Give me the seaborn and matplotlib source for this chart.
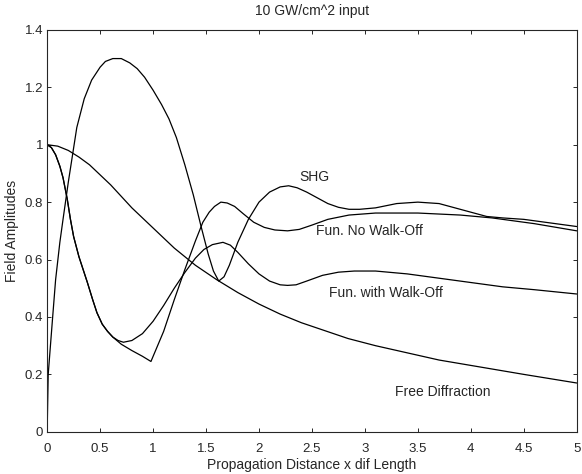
import matplotlib
matplotlib.use("Agg")
import matplotlib.pyplot as plt
import pandas as pd
import seaborn as sns

# curves
shg_x = [0, 0.01, 0.05, 0.08, 0.12, 0.15, 0.2, 0.28, 0.35, 0.42, 0.5, 0.55, 0.62, 0.7, 0.78,
         0.85, 0.92, 1.0, 1.08, 1.15, 1.22, 1.3, 1.38, 1.45, 1.52, 1.57, 1.62, 1.67, 1.72,
         1.8, 1.9, 2.0, 2.1, 2.2, 2.28, 2.36, 2.45, 2.55, 2.65, 2.75, 2.85, 2.95, 3.1, 3.3,
         3.5, 3.7, 3.85, 4.0, 4.15, 4.3, 4.5, 4.7, 5.0]
shg_y = [0, 0.2, 0.39, 0.53, 0.66, 0.74, 0.87, 1.06, 1.16, 1.225, 1.27, 1.29, 1.30, 1.30, 1.285,
         1.265, 1.235, 1.19, 1.14, 1.09, 1.025, 0.93, 0.825, 0.72, 0.62, 0.56, 0.525, 0.54, 0.58,
         0.66, 0.74, 0.80, 0.835, 0.853, 0.857, 0.85, 0.835, 0.815, 0.795, 0.782, 0.775, 0.775,
         0.78, 0.795, 0.80, 0.795, 0.78, 0.765, 0.75, 0.745, 0.74, 0.73, 0.715]

nowo_x = [0, 0.04, 0.08, 0.12, 0.15, 0.19, 0.22, 0.25, 0.3, 0.34, 0.38, 0.43, 0.47, 0.52, 0.57,
          0.62, 0.7, 0.8, 0.9, 0.98, 1.1, 1.2, 1.3, 1.4, 1.47, 1.53, 1.58, 1.64, 1.7, 1.77,
          1.85, 1.95, 2.05, 2.15, 2.27, 2.38, 2.5, 2.65, 2.85, 3.1, 3.5, 3.9, 4.2, 4.6, 5.0]
nowo_y = [1.0, 0.99, 0.965, 0.925, 0.885, 0.81, 0.74, 0.68, 0.61, 0.565, 0.52, 0.46, 0.415, 0.375,
          0.35, 0.33, 0.305, 0.283, 0.263, 0.245, 0.35, 0.46, 0.565, 0.665, 0.73, 0.765, 0.785,
          0.80, 0.797, 0.785, 0.76, 0.73, 0.712, 0.703, 0.70, 0.705, 0.72, 0.74, 0.755, 0.762,
          0.762, 0.755, 0.745, 0.725, 0.70]

wo_x = [0, 0.04, 0.08, 0.12, 0.15, 0.19, 0.22, 0.25, 0.3, 0.34, 0.38, 0.43, 0.47, 0.52, 0.57,
        0.62, 0.67, 0.72, 0.8, 0.9, 1.0, 1.1, 1.2, 1.3, 1.4, 1.48, 1.56, 1.66, 1.73, 1.8, 1.9,
        2.0, 2.1, 2.2, 2.27, 2.35, 2.45, 2.6, 2.75, 2.9, 3.1, 3.4, 3.7, 4.0, 4.3, 4.6, 5.0]
wo_y = [1.0, 0.99, 0.965, 0.925, 0.885, 0.81, 0.74, 0.68, 0.61, 0.565, 0.52, 0.46, 0.415, 0.375,
        0.35, 0.33, 0.318, 0.312, 0.318, 0.342, 0.385, 0.44, 0.50, 0.555, 0.605, 0.635, 0.652,
        0.66, 0.65, 0.625, 0.585, 0.55, 0.525, 0.512, 0.51, 0.512, 0.525, 0.545, 0.556, 0.56,
        0.56, 0.55, 0.535, 0.52, 0.505, 0.495, 0.48]

free_x = [0, 0.1, 0.2, 0.3, 0.4, 0.5, 0.6, 0.7, 0.8, 0.9, 1.0, 1.1, 1.2, 1.3, 1.4, 1.5, 1.6,
          1.8, 2.0, 2.2, 2.4, 2.6, 2.84, 3.1, 3.4, 3.7, 4.1, 4.5, 5.0]
free_y = [1.0, 0.995, 0.98, 0.957, 0.93, 0.895, 0.86, 0.82, 0.78, 0.745, 0.71, 0.675, 0.64, 0.61,
          0.58, 0.555, 0.53, 0.485, 0.445, 0.41, 0.38, 0.355, 0.325, 0.30, 0.275, 0.25, 0.225,
          0.20, 0.17]

x_ticks = [0, 0.5, 1, 1.5, 2, 2.5, 3, 3.5, 4, 4.5, 5]
x_tick_labels = ["0", "0.5", "1", "1.5", "2", "2.5", "3", "3.5", "4", "4.5", "5"]
y_ticks = [0, 0.2, 0.4, 0.6, 0.8, 1.0, 1.2, 1.4]
y_tick_labels = ["0", "0.2", "0.4", "0.6", "0.8", "1", "1.2", "1.4"]

frames = []
for name, xs, ys in [("SHG", shg_x, shg_y), ("nowo", nowo_x, nowo_y),
                     ("wo", wo_x, wo_y), ("free", free_x, free_y)]:
    frames.append(pd.DataFrame({"x": xs, "y": ys, "curve": name}))
df = pd.concat(frames, ignore_index=True)

sns.set_style("ticks")
plt.rcParams["font.family"] = ["Liberation Sans", "DejaVu Sans"]

fig = plt.figure(figsize=(5.82, 4.74), dpi=100)
ax = fig.add_axes([0.081, 0.089, 0.91, 0.848])

sns.lineplot(data=df, x="x", y="y", hue="curve", units="curve", estimator=None,
             sort=False, palette=["black"] * 4, linewidth=0.9, legend=False, ax=ax)

ax.set_xlim(0, 5)
ax.set_ylim(0, 1.4)
ax.set_xticks(x_ticks)
ax.set_xticklabels(x_tick_labels)
ax.set_yticks(y_ticks)
ax.set_yticklabels(y_tick_labels)
ax.tick_params(direction="in", top=True, right=True, length=3, width=0.7,
               labelsize=9.5, pad=3)
ax.tick_params(axis="x", pad=8)
for s in ax.spines.values():
    s.set_linewidth(0.8)

ax.set_xlabel("Propagation Distance x dif Length", fontsize=10, labelpad=2)
ax.set_ylabel("Field Amplitudes", fontsize=10, labelpad=4)
ax.set_title("10 GW/cm^2 input", fontsize=10, pad=11)

ax.text(2.38, 0.887, "SHG", fontsize=10, va="center")
ax.text(2.54, 0.70, "Fun. No Walk-Off", fontsize=10, va="center")
ax.text(2.66, 0.485, "Fun. with Walk-Off", fontsize=10, va="center")
ax.text(3.28, 0.14, "Free Diffraction", fontsize=10, va="center")

fig.savefig("out.png", dpi=100)
